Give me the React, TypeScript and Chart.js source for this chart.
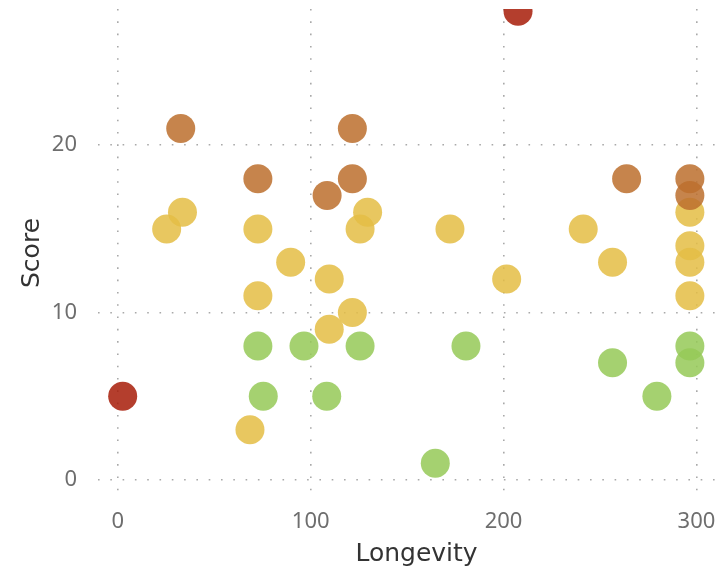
import React, { useEffect, useRef } from "react";
import { Chart, registerables } from "chart.js";

Chart.register(...registerables);

// Groups (colour categories)
const groupNames = ["Critical", "High", "Medium", "Low"];
const groupColors = [
  "rgba(168, 30, 10, 0.86)",
  "rgba(189, 112, 46, 0.86)",
  "rgba(228, 190, 70, 0.86)",
  "rgba(150, 201, 88, 0.86)",
];

// Critical
const criticalLongevity = [207.5, 2.5];
const criticalScore = [28, 5];

// High
const highLongevity = [32.6, 72.6, 108.5, 121.6, 121.6, 263.8, 296.6, 296.6];
const highScore = [21, 18, 17, 21, 18, 18, 18, 17];

// Medium
const mediumLongevity = [
  25.3, 33.5, 72.6, 89.6, 72.6, 109.6, 125.6, 129.5, 121.6, 109.6, 68.5,
  172.2, 201.6, 241.3, 256.5, 296.6, 296.6, 296.6, 296.6,
];
const mediumScore = [15, 16, 15, 13, 11, 12, 15, 16, 10, 9, 3, 15, 12, 15, 13, 16, 14, 13, 11];

// Low
const lowLongevity = [72.6, 96.5, 75.4, 108.3, 125.6, 164.6, 180.5, 256.5, 279.5, 296.6, 296.6];
const lowScore = [8, 8, 5, 5, 8, 1, 8, 7, 5, 8, 7];

// Axis ticks
const xTicks = [0, 100, 200, 300];
const yTicks = [0, 10, 20];

const groupLongevity = [criticalLongevity, highLongevity, mediumLongevity, lowLongevity];
const groupScore = [criticalScore, highScore, mediumScore, lowScore];

const zeroPadding = (s: any) => {
  s.paddingTop = 0;
  s.paddingBottom = 0;
  s.paddingLeft = 0;
  s.paddingRight = 0;
};

export default function App() {
  const canvasRef = useRef<HTMLCanvasElement | null>(null);

  useEffect(() => {
    if (!canvasRef.current) return;
    const gridColor = "rgba(160,160,160,0.9)";
    const chart = new Chart(canvasRef.current, {
      type: "scatter",
      data: {
        datasets: groupNames.map((name, gi) => ({
          label: name,
          data: groupLongevity[gi].map((x, i) => ({ x, y: groupScore[gi][i] })),
          backgroundColor: groupColors[gi],
          borderWidth: 0,
          pointRadius: 14.5,
          pointHoverRadius: 14.5,
          clip: 0,
        })),
      },
      options: {
        animation: false,
        responsive: false,
        devicePixelRatio: 1,
        layout: { autoPadding: false, padding: { top: 9, left: 0, right: 0, bottom: 0 } },
        plugins: {
          legend: { display: false },
          tooltip: { enabled: false },
        },
        scales: {
          x: {
            type: "linear",
            min: -10.3,
            max: 320,
            afterFit: (s: any) => {
              s.height = 72;
              zeroPadding(s);
            },
            afterBuildTicks: (s: any) => {
              s.ticks = xTicks.map((v) => ({ value: v }));
            },
            grid: {
              color: gridColor,
              lineWidth: 1.6,
              drawTicks: false,
            },
            border: { display: false, dash: [1.6, 10.7] },
            ticks: {
              color: "#6e6e6e",
              padding: 12,
              font: { family: "'Noto Sans', sans-serif", size: 22 },
            },
            title: {
              display: true,
              text: "Longevity",
              color: "#333333",
              padding: { top: 0, bottom: 0 },
              font: { family: "'DejaVu Sans', sans-serif", size: 25 },
            },
          },
          y: {
            type: "linear",
            min: -1.02,
            max: 28.14,
            afterFit: (s: any) => {
              s.width = 98;
              zeroPadding(s);
            },
            afterBuildTicks: (s: any) => {
              s.ticks = yTicks.map((v) => ({ value: v }));
            },
            grid: {
              color: gridColor,
              lineWidth: 1.6,
              drawTicks: false,
            },
            border: { display: false, dash: [1.6, 10.7] },
            ticks: {
              color: "#6e6e6e",
              padding: 21,
              font: { family: "'Noto Sans', sans-serif", size: 22 },
            },
            title: {
              display: true,
              text: "Score",
              color: "#333333",
              padding: { top: 17, bottom: 0 },
              font: { family: "'DejaVu Sans', sans-serif", size: 25 },
            },
          },
        },
      },
    });
    return () => chart.destroy();
  }, []);

  return (
    <div
      style={{
        position: "fixed",
        left: 0,
        top: 0,
        width: 721,
        height: 569,
        overflow: "hidden",
        background: "#ffffff",
      }}
    >
      <canvas
        ref={canvasRef}
        width={735}
        height={569}
        style={{ display: "block", width: 735, height: 569 }}
      />
    </div>
  );
}
